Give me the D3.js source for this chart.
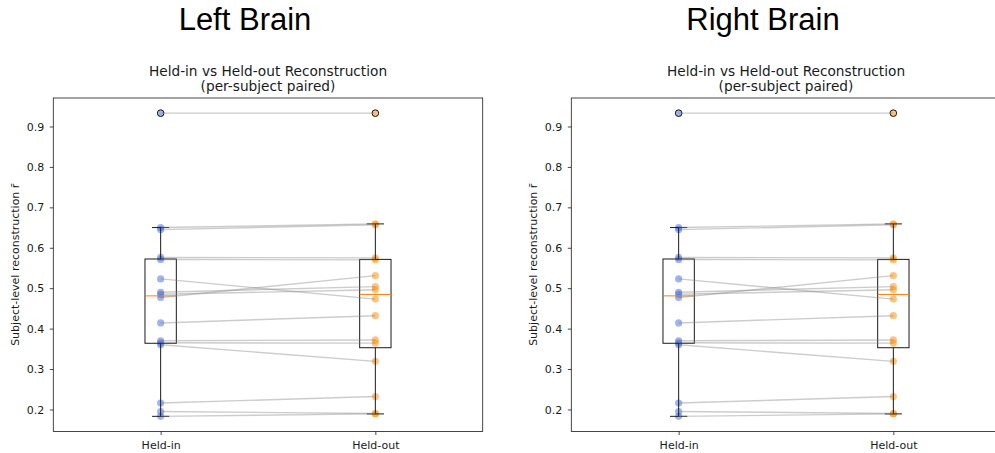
<!DOCTYPE html>
<html>
<head>
<meta charset="utf-8">
<script src="https://cdn.jsdelivr.net/npm/d3@7"></script>
<style>
  html, body { margin: 0; padding: 0; background: #fff; }
  svg { display: block; }
  text { font-family: "DejaVu Sans", sans-serif; fill: #1a1a1a; }
  .suptitle { font-family: "Liberation Sans", Arial, sans-serif; fill: #000; }
</style>
</head>
<body>
<svg id="chart" width="995" height="453"></svg>
<script>
// Conditions on the x axis
const conditions = ["Held-in", "Held-out"];

// Per-subject reconstruction r̄, paired by index (held-in[i] ↔ held-out[i])
const leftHeldIn  = [0.933, 0.650, 0.645, 0.576, 0.571, 0.523, 0.477, 0.490, 0.485, 0.414, 0.370, 0.365, 0.360, 0.216, 0.195, 0.183];
const leftHeldOut = [0.933, 0.659, 0.657, 0.575, 0.570, 0.473, 0.531, 0.504, 0.496, 0.432, 0.372, 0.364, 0.319, 0.232, 0.190, 0.189];

const rightHeldIn  = [0.933, 0.650, 0.645, 0.576, 0.571, 0.523, 0.477, 0.490, 0.485, 0.414, 0.370, 0.365, 0.360, 0.216, 0.195, 0.183];
const rightHeldOut = [0.933, 0.659, 0.657, 0.575, 0.570, 0.473, 0.531, 0.504, 0.496, 0.432, 0.372, 0.364, 0.319, 0.232, 0.190, 0.189];

const yTicks = [0.2, 0.3, 0.4, 0.5, 0.6, 0.7, 0.8, 0.9];

const panelTitles = ["Left Brain", "Right Brain"];
const axTitle = ["Held-in vs Held-out Reconstruction", "(per-subject paired)"];
const yLabel = "Subject-level reconstruction r\u0304";

const pointColors = ["#4169e1", "#ff8c00"];

const svg = d3.select("#chart");

function boxStats(values) {
  const s = values.slice().sort(d3.ascending);
  const q1 = d3.quantileSorted(s, 0.25);
  const med = d3.quantileSorted(s, 0.5);
  const q3 = d3.quantileSorted(s, 0.75);
  const iqr = q3 - q1;
  const hiLim = q3 + 1.5 * iqr, loLim = q1 - 1.5 * iqr;
  const inside = s.filter(v => v >= loLim && v <= hiLim);
  return {
    q1, med, q3,
    lo: d3.min(inside), hi: d3.max(inside),
    fliers: s.filter(v => v < loLim || v > hiLim)
  };
}

function drawPanel(offsetX, heldIn, heldOut, supTitle) {
  const g = svg.append("g").attr("transform", `translate(${offsetX},0)`);
  const left = 53.3, right = 482.7, top = 98, bottom = 431.5;

  const series = [heldIn, heldOut];
  const all = heldIn.concat(heldOut);
  const [mn, mx] = d3.extent(all);
  const pad = (mx - mn) * 0.05;

  const x = d3.scalePoint().domain(conditions).range([left, right]).padding(0.5);
  const y = d3.scaleLinear().domain([mn - pad, mx + pad]).range([bottom, top]);
  const step = x.step();
  const boxW = 0.146 * step, capW = 0.08 * step;

  // Figure heading
  g.append("text").attr("class", "suptitle")
    .attr("x", 245).attr("y", 29.5)
    .attr("text-anchor", "middle")
    .style("font-size", "31px")
    .text(supTitle);

  // Axes title (two lines)
  const cx = (left + right) / 2;
  g.append("text").attr("x", cx).attr("y", 75.7)
    .attr("text-anchor", "middle").style("font-size", "13.7px").text(axTitle[0]);
  g.append("text").attr("x", cx).attr("y", 91)
    .attr("text-anchor", "middle").style("font-size", "13.7px").text(axTitle[1]);

  // Scatter points (drawn underneath the box lines)
  series.forEach((vals, i) => {
    g.append("g").selectAll("circle").data(vals).join("circle")
      .attr("cx", x(conditions[i]))
      .attr("cy", d => y(d))
      .attr("r", 3.6)
      .attr("fill", pointColors[i])
      .attr("fill-opacity", 0.5);
  });

  // Box plots
  series.forEach((vals, i) => {
    const st = boxStats(vals);
    const px = x(conditions[i]);
    const bg = g.append("g").attr("stroke", "#1a1a1a").attr("stroke-width", 1).attr("fill", "none");
    bg.append("rect")
      .attr("x", px - boxW / 2).attr("y", y(st.q3))
      .attr("width", boxW).attr("height", y(st.q1) - y(st.q3));
    bg.append("line").attr("x1", px).attr("x2", px).attr("y1", y(st.q3)).attr("y2", y(st.hi));
    bg.append("line").attr("x1", px).attr("x2", px).attr("y1", y(st.q1)).attr("y2", y(st.lo));
    bg.append("line").attr("x1", px - capW / 2).attr("x2", px + capW / 2).attr("y1", y(st.hi)).attr("y2", y(st.hi));
    bg.append("line").attr("x1", px - capW / 2).attr("x2", px + capW / 2).attr("y1", y(st.lo)).attr("y2", y(st.lo));
    g.append("line")
      .attr("x1", px - boxW / 2).attr("x2", px + boxW / 2)
      .attr("y1", y(st.med)).attr("y2", y(st.med))
      .attr("stroke", "#ff7f0e").attr("stroke-width", 1);
    bg.selectAll("circle.flier").data(st.fliers).join("circle")
      .attr("class", "flier")
      .attr("cx", px).attr("cy", d => y(d)).attr("r", 3.3)
      .attr("stroke", "#1a1a1a").attr("stroke-width", 1);
  });

  // Per-subject pairing lines
  const pairLine = d3.line().x(d => d[0]).y(d => d[1]);
  g.append("g").selectAll("path").data(d3.zip(heldIn, heldOut)).join("path")
    .attr("d", d => pairLine([[x(conditions[0]), y(d[0])], [x(conditions[1]), y(d[1])]]))
    .attr("fill", "none")
    .attr("stroke", "#808080")
    .attr("stroke-opacity", 0.4)
    .attr("stroke-width", 1.4);

  // Axes
  const yAxis = g.append("g").attr("transform", `translate(${left},0)`)
    .call(d3.axisLeft(y).tickValues(yTicks).tickSize(3.5).tickPadding(5.5).tickFormat(d3.format(".1f")));
  const xAxis = g.append("g").attr("transform", `translate(0,${bottom})`)
    .call(d3.axisBottom(x).tickSize(3.5).tickPadding(6.5));
  [yAxis, xAxis].forEach(a => {
    a.select(".domain").remove();
    a.selectAll(".tick line").attr("stroke", "#1a1a1a").attr("stroke-width", 0.8);
    a.selectAll(".tick text").style("font-family", "DejaVu Sans, sans-serif")
      .style("font-size", "11px").attr("fill", "#1a1a1a");
  });

  // Frame
  g.append("rect")
    .attr("x", left).attr("y", top)
    .attr("width", right - left).attr("height", bottom - top)
    .attr("fill", "none").attr("stroke", "#1a1a1a").attr("stroke-width", 0.8);

  // Y label
  g.append("text")
    .attr("transform", `translate(19,${(top + bottom) / 2}) rotate(-90)`)
    .attr("text-anchor", "middle")
    .style("font-size", "11px")
    .text(yLabel);
}

drawPanel(0, leftHeldIn, leftHeldOut, panelTitles[0]);
drawPanel(518, rightHeldIn, rightHeldOut, panelTitles[1]);
</script>
</body>
</html>
